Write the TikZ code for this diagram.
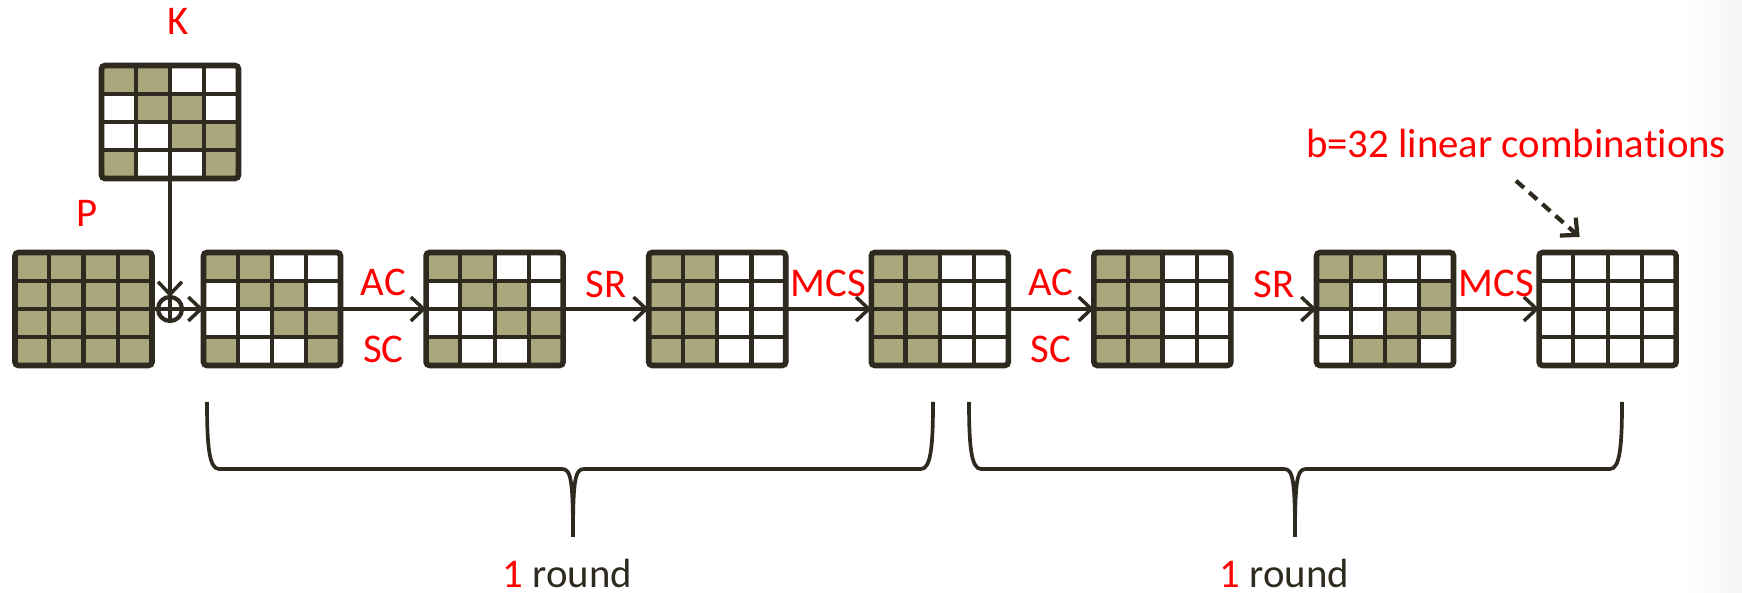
\documentclass[tikz,border=0pt]{standalone}
\usepackage{fontspec}
\setmainfont{Carlito}[Ligatures=NoCommon]
\usetikzlibrary{positioning,arrows.meta,backgrounds}

\definecolor{gridink}{RGB}{46,42,31}
\definecolor{sboxfill}{RGB}{170,167,124}
\definecolor{lblred}{RGB}{255,0,0}

% shaded cells as row/column, counted from the top left
\def\fullpat{1/1,1/2,1/3,1/4,2/1,2/2,2/3,2/4,3/1,3/2,3/3,3/4,4/1,4/2,4/3,4/4}
\def\diagpat{1/1,1/2,2/2,2/3,3/3,3/4,4/1,4/4}
\def\colpat{1/1,1/2,2/1,2/2,3/1,3/2,4/1,4/2}
\def\shiftpat{1/1,1/2,2/1,2/4,3/3,3/4,4/2,4/3}

% fill the active bytes of a state node
\newcommand{\statecells}[2]{%
  \begin{scope}[on background layer]
    \foreach \r/\c in #2
      \fill[sboxfill] ([xshift={(\c-1)*0.3425cm},yshift={-(\r-1)*0.2825cm}]#1.north west) rectangle ++(0.3425cm,-0.2825cm);
  \end{scope}}
% inner 4x4 grid lines
\newcommand{\statelines}[1]{%
  \foreach \i in {1,2,3} {
    \draw[cellline] ([xshift={\i*0.3425cm}]#1.north west) -- ([xshift={\i*0.3425cm}]#1.south west);
    \draw[cellline] ([yshift={-\i*0.2825cm}]#1.north west) -- ([yshift={-\i*0.2825cm}]#1.north east);
  }}
% brace under one round: left end, right end, tip
\newcommand{\roundbrace}[3]{%
  \draw[bracepath] (#1,-4.02) .. controls (#1,-4.45) and ({#1+0.02},-4.69) .. ({#1+0.12},-4.69)
    -- ({#3-0.11},-4.69) .. controls ({#3-0.02},-4.69) and (#3,-4.8) .. (#3,-5.37)
    .. controls (#3,-4.8) and ({#3+0.02},-4.69) .. ({#3+0.11},-4.69)
    -- ({#2-0.12},-4.69) .. controls ({#2-0.02},-4.69) and (#2,-4.45) .. (#2,-4.02);}

\begin{document}
\begin{tikzpicture}[node distance=0.856cm,>={Straight Barb[length=3.6pt,width=6.8pt]},line width=1pt]
\tikzstyle{state}=[rectangle,draw=gridink,line width=1.6pt,rounded corners=1pt,minimum width=1.37cm,minimum height=1.13cm,inner sep=0pt,outer sep=0pt]
\tikzstyle{cellline}=[draw=gridink,line width=1.2pt]
\tikzstyle{xorop}=[circle,draw=gridink,line width=1.2pt,minimum size=0.24cm,inner sep=0pt,outer sep=0pt]
\tikzstyle{flow}=[->,draw=gridink]
\tikzstyle{oplbl}=[text=lblred,inner sep=0pt,outer sep=0pt,font=\fontsize{11.6}{14}\selectfont]
\tikzstyle{roundlbl}=[text=gridink,inner sep=0pt,outer sep=0pt,font=\fontsize{11.6}{14}\selectfont]
\tikzstyle{bracepath}=[draw=gridink,line width=1.05pt]

\useasboundingbox (0,0) rectangle (17.42,-5.93);
\shade[left color=white,right color=black!4] (16.8,0) rectangle (17.42,-5.93);

% plaintext, key and the states of two rounds
\node[state] (p) at (0.835,-3.09) {};
\node[xorop, right=0.06cm of p] (xor) {};
\node[state, above=1.185cm of xor] (k) {};
\node[state, right=0.215cm of xor] (s1) {};
\node[state, right=of s1] (s2) {};
\node[state, right=of s2] (s3) {};
\node[state, right=of s3] (s4) {};
\node[state, right=of s4] (s5) {};
\node[state, right=of s5] (s6) {};
\node[state, right=of s6] (s7) {};

\statecells{p}{\fullpat}
\statecells{k}{\diagpat}
\statecells{s1}{\diagpat}
\statecells{s2}{\diagpat}
\statecells{s3}{\colpat}
\statecells{s4}{\colpat}
\statecells{s5}{\colpat}
\statecells{s6}{\shiftpat}
\foreach \s in {p,k,s1,s2,s3,s4,s5,s6,s7} {\statelines{\s}}

\node[oplbl, above=0.305cm of k, xshift=0.08cm] (klbl) {K};
\node[oplbl, above=0.255cm of p, xshift=0.035cm] (plbl) {P};

% key addition
\draw[xorop] (xor.north) -- (xor.south) (xor.west) -- (xor.east);
\draw[flow] (k) -- (xor);
\draw[draw=gridink] (p) -- (xor);
\draw[flow] (xor) -- (s1);

% round operations
\draw[flow] (s1) -- node[oplbl, midway, yshift=0.265cm] (ac1) {AC} node[oplbl, midway, yshift=-0.405cm] (sc1) {SC} (s2);
\draw[flow] (s2) -- node[oplbl, midway, yshift=0.25cm] (sr1) {SR} (s3);
\draw[flow] (s3) -- node[oplbl, midway, yshift=0.255cm] (mcs1) {MCS} (s4);
\draw[flow] (s4) -- node[oplbl, midway, yshift=0.265cm] (ac2) {AC} node[oplbl, midway, yshift=-0.405cm] (sc2) {SC} (s5);
\draw[flow] (s5) -- node[oplbl, midway, yshift=0.25cm] (sr2) {SR} (s6);
\draw[flow] (s6) -- node[oplbl, midway, yshift=0.255cm] (mcs2) {MCS} (s7);

\node[oplbl] (lincomb) at (15.16,-1.435) {b=32 linear combinations};
\draw[flow, dash pattern=on 3pt off 2pt, line width=1.2pt] ([yshift=-0.23cm]lincomb.south) -- ([xshift=-0.28cm,yshift=0.155cm]s7.north);

% braces
\roundbrace{2.07}{9.33}{5.73}
\roundbrace{9.69}{16.22}{12.95}
\node[roundlbl, anchor=base] (round1) at (5.675,-5.87) {\textcolor{lblred}{1} round};
\node[roundlbl, anchor=base] (round2) at (12.845,-5.87) {\textcolor{lblred}{1} round};
\end{tikzpicture}
\end{document}
